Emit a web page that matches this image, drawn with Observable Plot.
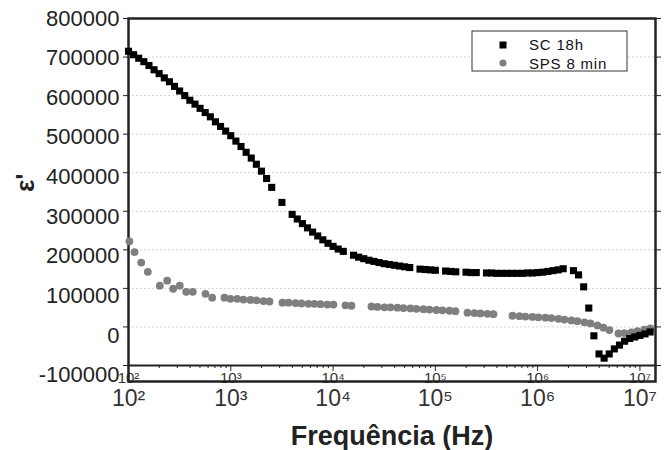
<!DOCTYPE html>
<html><head><meta charset="utf-8">
<script src="https://cdn.jsdelivr.net/npm/d3@7"></script>
<script src="https://cdn.jsdelivr.net/npm/@observablehq/plot@0.6"></script>
<style>
body{margin:0;background:#fff;}
#chart{width:667px;height:450px;}
</style></head><body><div id="chart"></div>
<script>
// SC 18h (black squares): frequency (Hz) and ε' (thousands)
const scFreq = [100,112.2,125.9,141.3,158.5,177.8,199.5,223.9,251.2,281.8,316.2,354.8,398.1,446.7,501.2,562.3,631,707.9,794.3,891.3,
  1000,1122,1259,1413,1585,1778,1995,2239,2512,3162,3981,4467,5012,5623,6310,7079,7943,8913,
  10000,11220,12590,15850,17780,19950,22390,25120,28180,31620,35480,39810,44670,50120,56230,70790,79430,89130,
  100000,125900,141300,158500,199500,223900,251200,316200,354800,398100,446700,501200,562300,631000,707900,794300,891300,
  1000000,1122000,1259000,1413000,1585000,1778000,2239000,2512000,2818000,3162000,3548000,3981000,4467000,5012000,5623000,6310000,7079000,7943000,8913000,
  10000000,11220000,12590000];
const scEps = [715,706,697,688,678,667,657,646,636,624,612,600,588,578,567,556,545,532,520,508,
  496,482,468,453,438,422,404,385,362,323,292,280,268,257,246,236,226,217,
  209,202,196,186,181,177,173,170,167,164,162,160,158,156,154,150,149,148,
  147,145,144,143,142,141,141,140,140,139,139,139,139,139,139,140,140,
  141,142,144,146,148,151,146,135,104,49,-23,-70,-81,-70,-57,-47,-37,-30,-26,
  -22,-18,-13];

// SPS 8 min (grey circles): frequency (Hz) and ε' (thousands)
const spsFreq = [102,114.5,133.1,154.4,202.3,238.9,273.5,317.3,366.4,425.1,565.7,657.9,867.8,993.3,
  1155,1331,1558,1784,2087,2390,3202,3665,4291,4912,5748,6579,7530,8815,
  10090,13220,15130,23740,27170,31800,36400,42620,48780,57090,65350,76500,87580,
  102500,117300,137300,157200,206000,241200,276100,323100,369800,567200,663900,760000,889700,
  1018000,1192000,1364000,1597000,1828000,2140000,2449000,2868000,3282000,3842000,4398000,5034000,6164000,7056000,8259000,9454000,
  11070000,12670000];
const spsEps = [222,194,167,143,107,120,99,107,91,91,86,76,76,73,
  73,71,70,69,67,66,63,63,62,61,60,60,59,58,
  58,56,55,53,52,51,51,50,49,48,47,46,45,
  44,43,42,41,37,36,35,34,33,29,28,27,26,
  25,24,23,21,19,17,15,12,9,4,-2,-8,-17,-16,-14,-11,
  -7,-4];

const seriesNames = ["SC 18h", "SPS 8 min"];
const yTicks = [-100000,0,100000,200000,300000,400000,500000,600000,700000,800000];
const xMajor = [1e2,1e3,1e4,1e5,1e6,1e7];
const mantissas = [2,3,4,5,6,7,8,9];
const decades = [1e2,1e3,1e4,1e5,1e6];
const xMinor = decades.flatMap(d => mantissas.map(m => m*d));
const sup = {2:"\u00b2",3:"\u00b3",4:"\u2074",5:"\u2075",6:"\u2076",7:"\u2077"};
const fmtPow = d => "10" + sup[Math.round(Math.log10(d))];

const sc = scFreq.map((f,i) => ({f, e: scEps[i]*1000}));
const sps = spsFreq.map((f,i) => ({f, e: spsEps[i]*1000}));

const font = "'Liberation Sans', Arial, sans-serif";
const plot = Plot.plot({
  width: 667, height: 450,
  marginLeft: 128, marginRight: 12, marginTop: 18, marginBottom: 85,
  style: {fontFamily: font, background: "#fff", color: "#222"},
  x: {type: "log", domain: [100, 1.42e7]},
  y: {domain: [-100000, 800000]},
  marks: [
    Plot.gridY(yTicks.filter(v => v > -100000 && v < 800000), {stroke: "#c8c8c8", strokeOpacity: 1, strokeDasharray: "2,2", strokeWidth: 0.8}),
    Plot.ruleY([-100000], {stroke: "#222", strokeWidth: 2}),
    Plot.axisX(xMinor, {anchor: "bottom", tickSize: 3, tickFormat: () => "", stroke: "#222", label: null}),
    Plot.axisX(xMajor, {anchor: "bottom", tickSize: 6, tickPadding: 1, tickFormat: fmtPow, fontSize: 15, fill: "#333", stroke: "#222", label: null}),
    Plot.axisX(xMajor, {anchor: "bottom", tickSize: 0, tickPadding: 24, tickFormat: fmtPow, fontSize: 23, fill: "#333", label: null}),
    Plot.axisY(yTicks, {anchor: "left", tickSize: 5, tickFormat: () => "", stroke: "#222", label: null}),
    Plot.axisY(yTicks, {anchor: "right", tickSize: 5, tickFormat: () => "", stroke: "#222", label: null}),
    Plot.text(yTicks, {y: d => d - (800000 - d) * 0.028, frameAnchor: "left", dx: -9, textAnchor: "end", text: d => String(d), fontSize: 22, fill: "#222"}),
    Plot.frame({stroke: "#222", strokeWidth: 2.5, insetBottom: -16}),
    Plot.dot(sps, {x: "f", y: "e", r: 3.9, fill: "#7f7f7f", stroke: null}),
    Plot.dot(sc, {x: "f", y: "e", symbol: "square", r: 4.0, fill: "#000", stroke: null}),
    Plot.text(["Frequência (Hz)"], {frameAnchor: "bottom", dy: 71, fontSize: 27, fontWeight: "bold", fill: "#222", lineAnchor: "middle"}),
    Plot.text(["ε'"], {frameAnchor: "left", dx: -103, dy: 0, rotate: -90, fontSize: 26, fontWeight: "bold", fill: "#222", lineAnchor: "middle"})
  ]
});
document.getElementById("chart").append(plot);

// legend box inside the plot frame
const svg = d3.select(plot);
const g = svg.append("g").attr("text-anchor", "start");
g.append("rect").attr("x", 472).attr("y", 31).attr("width", 155).attr("height", 40)
  .attr("fill", "#fff").attr("stroke", "#333").attr("stroke-width", 1);
g.append("rect").attr("x", 499.5).attr("y", 41.5).attr("width", 7).attr("height", 7).attr("fill", "#000");
g.append("circle").attr("cx", 503).attr("cy", 63).attr("r", 3.6).attr("fill", "#7f7f7f");
g.append("text").attr("x", 529).attr("y", 50).attr("text-anchor", "start").attr("font-size", 15).attr("letter-spacing", 0.8).attr("font-family", font).attr("fill", "#111").text(seriesNames[0]);
g.append("text").attr("x", 529).attr("y", 68.5).attr("text-anchor", "start").attr("font-size", 15).attr("letter-spacing", 0.8).attr("font-family", font).attr("fill", "#111").text(seriesNames[1]);
</script>
</body></html>
